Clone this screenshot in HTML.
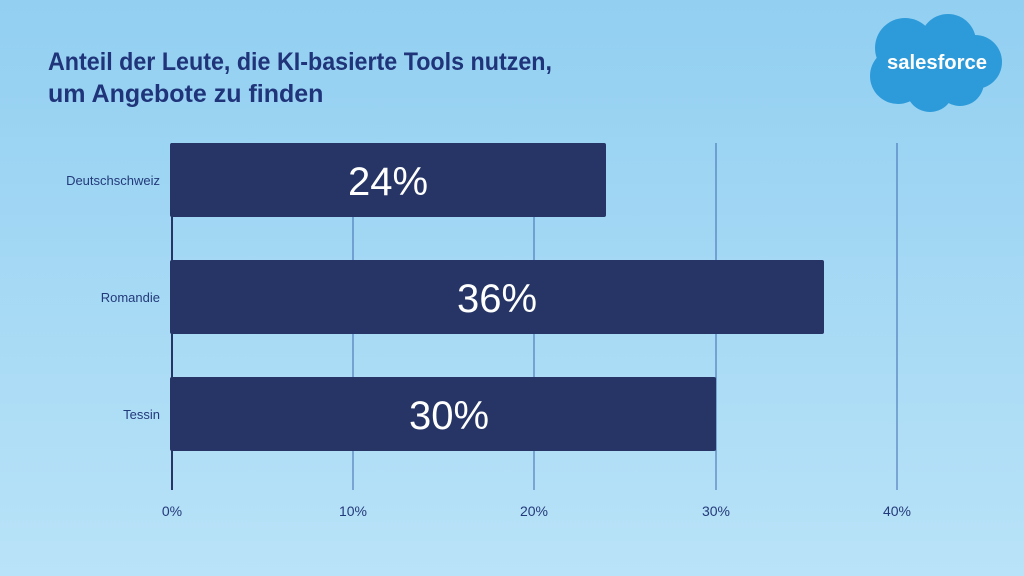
<!DOCTYPE html>
<html><head><meta charset="utf-8"><style>
html,body{margin:0;padding:0}
body{width:1024px;height:576px;overflow:hidden;background:linear-gradient(#92cff1,#b9e3f8);font-family:"Liberation Sans",sans-serif}
</style></head><body>
<svg width="1024" height="576" xmlns="http://www.w3.org/2000/svg" style="position:absolute;left:0;top:0">
<text x="48" y="70" font-size="25" font-weight="bold" fill="#1f3479" textLength="504" lengthAdjust="spacingAndGlyphs" font-family="Liberation Sans, sans-serif">Anteil der Leute, die KI-basierte Tools nutzen,</text>
<text x="48" y="102" font-size="25" font-weight="bold" fill="#1f3479" font-family="Liberation Sans, sans-serif">um Angebote zu finden</text>
<g fill="#2d9bd9">
<circle cx="905" cy="48" r="30"/><circle cx="948" cy="42" r="28"/><circle cx="975" cy="62" r="27"/>
<circle cx="898" cy="76" r="28"/><circle cx="930" cy="88" r="24"/><circle cx="960" cy="82" r="24"/>
<rect x="895" y="45" width="80" height="45"/>
</g>
<text x="937" y="69" font-size="20" font-weight="bold" fill="#fff" text-anchor="middle" textLength="100" lengthAdjust="spacingAndGlyphs" font-family="Liberation Sans, sans-serif">salesforce</text>
<g stroke="#3d6ab0" stroke-width="1">
<line x1="353" y1="143" x2="353" y2="490"/><line x1="534" y1="143" x2="534" y2="490"/>
<line x1="716" y1="143" x2="716" y2="490"/><line x1="897" y1="143" x2="897" y2="490"/>
</g>
<line x1="172" y1="143" x2="172" y2="490" stroke="#263566" stroke-width="2"/>
<g fill="#263566">
<rect x="170" y="143" width="436" height="74" rx="2"/>
<rect x="170" y="260" width="654" height="74" rx="2"/>
<rect x="170" y="377" width="546" height="74" rx="2"/>
</g>
<g fill="#fff" font-size="40" text-anchor="middle" font-family="Liberation Sans, sans-serif">
<text x="388" y="195">24%</text><text x="497" y="312">36%</text><text x="449" y="429">30%</text>
</g>
<g fill="#233a7a" font-size="13" text-anchor="end" font-family="Liberation Sans, sans-serif">
<text x="160" y="185">Deutschschweiz</text><text x="160" y="302">Romandie</text><text x="160" y="419">Tessin</text>
</g>
<g fill="#233a7a" font-size="14" text-anchor="middle" font-family="Liberation Sans, sans-serif">
<text x="172" y="516">0%</text><text x="353" y="516">10%</text><text x="534" y="516">20%</text><text x="716" y="516">30%</text><text x="897" y="516">40%</text>
</g>
</svg>
</body></html>
